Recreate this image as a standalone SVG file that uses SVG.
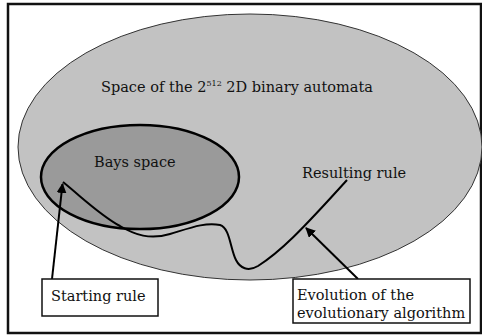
<svg xmlns="http://www.w3.org/2000/svg" width="482" height="336" viewBox="0 0 482 336">
<defs>
<style>
.t{font-family:"DejaVu Serif","Liberation Serif",serif;font-size:14.5px;fill:#111}
.box{fill:#fff;stroke:#111;stroke-width:1.5}
.c{fill:none;stroke:#000;stroke-width:2}
</style>
<marker id="ah" viewBox="0 0 10 10" refX="9" refY="5" markerWidth="5" markerHeight="5" orient="auto" markerUnits="strokeWidth">
<path d="M0,0 L10,5 L0,10 z" fill="#000"/>
</marker>
</defs>
<rect x="0" y="0" width="482" height="336" fill="#fff"/>
<rect x="8" y="4" width="473" height="329" fill="#fff" stroke="#111" stroke-width="2.5"/>
<g id="automata-space">
<ellipse cx="250" cy="147" rx="232" ry="133" fill="#c2c2c2" stroke="#333" stroke-width="1"/>
<text class="t" x="101" y="92">Space of the 2<tspan font-size="8" dy="-6">512</tspan><tspan dy="6"> 2D binary automata</tspan></text>
</g>
<g id="bays-space">
<ellipse cx="140" cy="177" rx="99" ry="52" fill="#9a9a9a" stroke="#000" stroke-width="2.5"/>
<text class="t" x="94" y="167">Bays space</text>
</g>
<g id="resulting-rule">
<text class="t" x="302" y="178">Resulting rule</text>
</g>
<g id="connectors">
<path class="c" d="M63,182 C85,200 100,215 120,226 C135,235 150,240 170,234 C190,228 205,222 220,225 C230,228 230,248 236,260 C240,268 248,272 258,266 C280,252 300,232 347,180"/>
<line class="c" x1="52" y1="279" x2="62.5" y2="184" marker-end="url(#ah)"/>
<line class="c" x1="358" y1="279" x2="306" y2="228" marker-end="url(#ah)"/>
</g>
<g id="starting-rule">
<rect class="box" x="42" y="279" width="116" height="37"/>
<text class="t" x="51" y="301">Starting rule</text>
</g>
<g id="evolution">
<rect class="box" x="293" y="279" width="177" height="44"/>
<text class="t" x="297" y="300">Evolution of the</text>
<text class="t" x="297" y="318">evolutionary algorithm</text>
</g>
</svg>
